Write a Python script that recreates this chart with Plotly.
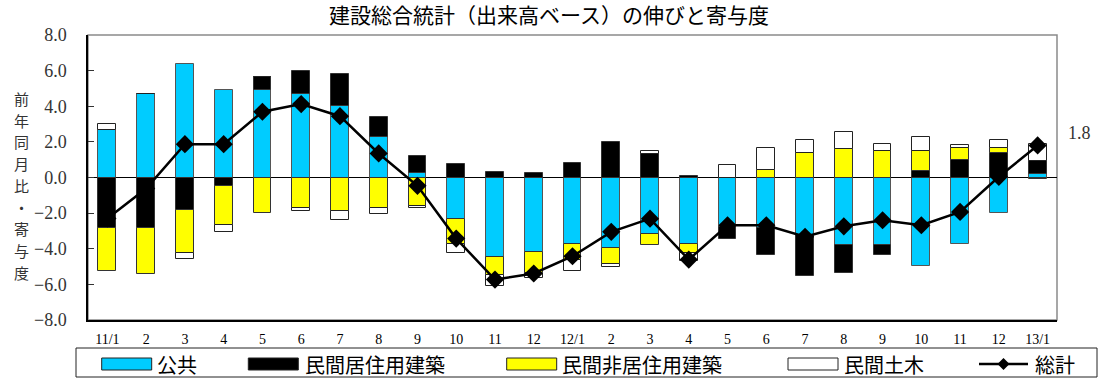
import plotly.graph_objects as go

# Month labels (11/1 = January 2011 ... 13/1 = January 2013)
months = ["11/1", "2", "3", "4", "5", "6", "7", "8", "9", "10", "11", "12",
          "12/1", "2", "3", "4", "5", "6", "7", "8", "9", "10", "11", "12", "13/1"]

# Contributions by sector (percentage points)
public = [2.65, 4.70, 6.40, 4.92, 4.90, 4.70, 3.99, 2.26, 0.24, -2.31, -4.44, -4.16,
          -3.71, -3.93, -3.18, -3.71, -2.77, -2.85, -3.24, -3.77, -3.77, -4.96, -3.73, -2.02, 0.17]
residential = [-2.83, -2.83, -1.82, -0.45, 0.73, 1.29, 1.83, 1.13, 0.99, 0.77, 0.32, 0.24,
               0.82, 1.97, 1.31, 0.09, -0.71, -1.52, -2.30, -1.57, -0.58, 0.37, 1.01, 1.35, 0.76]
non_residential = [-2.44, -2.57, -2.40, -2.19, -1.97, -1.71, -1.86, -1.74, -1.61, -1.40, -1.05, -1.18,
                   -0.94, -0.94, -0.60, -0.51, 0.0, 0.43, 1.38, 1.59, 1.48, 1.13, 0.62, 0.28, -0.10]
civil = [0.38, 0.0, -0.35, -0.42, 0.04, -0.15, -0.52, -0.30, -0.13, -0.51, -0.60, -0.28,
         -0.59, -0.17, 0.17, -0.48, 0.71, 1.23, 0.72, 0.97, 0.39, 0.76, 0.18, 0.45, 0.96]
# Year-on-year change of the total (%)
total = [-2.30, -0.62, 1.87, 1.87, 3.69, 4.12, 3.44, 1.35, -0.47, -3.43, -5.73, -5.39,
         -4.42, -3.05, -2.31, -4.61, -2.68, -2.68, -3.33, -2.74, -2.40, -2.68, -1.93, 0.04, 1.8]

y_ticks = [-8, -6, -4, -2, 0, 2, 4, 6, 8]

series = [
    ("公共", public, "#00CCFF", "#555555"),
    ("民間居住用建築", residential, "#000000", "#333333"),
    ("民間非居住用建築", non_residential, "#FFFF00", "#333333"),
    ("民間土木", civil, "#FFFFFF", "#222222"),
]
total_name = "総計"

W, H = 1098, 378
L, R, T, B = 88, 41, 35, 58
PW, PH = W - L - R, H - T - B

SERIF = "Liberation Serif"
CJK = "Noto Sans CJK JP"

x = list(range(len(months)))

fig = go.Figure()
for name, vals, fill, edge in series:
    fig.add_trace(go.Bar(
        x=x, y=vals, name=name, width=0.46,
        marker=dict(color=fill, line=dict(color=edge, width=1)),
        showlegend=False,
    ))

fig.add_trace(go.Scatter(
    x=x, y=total, name=total_name, mode="lines+markers",
    line=dict(color="#000000", width=2.5),
    marker=dict(symbol="diamond", size=14, color="#000000"),
    showlegend=False,
))


def px_x(px):
    return (px - L) / PW


def px_y(py):
    return (H - B - py) / PH


shapes = [
    # plot frame (top/right in grey)
    dict(type="rect", xref="paper", yref="paper", x0=0, x1=1, y0=0, y1=1,
         line=dict(color="#8a8a8a", width=1.5), layer="below"),
    # legend box
    dict(type="rect", xref="paper", yref="paper",
         x0=px_x(76), x1=px_x(1097), y0=px_y(377), y1=px_y(348),
         line=dict(color="#222222", width=1)),
]
annotations = []

# legend entries: swatch left edge, label left edge
legend_pos = [(101.7, 155), (248.3, 303), (506.7, 560), (788, 842)]
sw_top, sw_bot, leg_mid = 358, 370, 364
for (name, vals, fill, edge), (sx, tx) in zip(series, legend_pos):
    shapes.append(dict(type="rect", xref="paper", yref="paper",
                       x0=px_x(sx), x1=px_x(sx + 50), y0=px_y(sw_bot), y1=px_y(sw_top),
                       fillcolor=fill, line=dict(color="#222222", width=1)))
    annotations.append(dict(text=name, xref="paper", yref="paper",
                            x=px_x(tx), y=px_y(leg_mid), xanchor="left", yanchor="middle",
                            showarrow=False, font=dict(family=CJK, size=20, color="#000000")))

# legend entry for the total line
lx0, lx1 = 979, 1028
lxm = (lx0 + lx1) / 2
shapes.append(dict(type="line", xref="paper", yref="paper",
                   x0=px_x(lx0), x1=px_x(lx1), y0=px_y(leg_mid), y1=px_y(leg_mid),
                   line=dict(color="#000000", width=2.5)))
d = 6
shapes.append(dict(type="path", xref="paper", yref="paper",
                   path=(f"M {px_x(lxm - d)} {px_y(leg_mid)} L {px_x(lxm)} {px_y(leg_mid - d)} "
                         f"L {px_x(lxm + d)} {px_y(leg_mid)} L {px_x(lxm)} {px_y(leg_mid + d)} Z"),
                   fillcolor="#000000", line=dict(color="#000000", width=0)))
annotations.append(dict(text=total_name, xref="paper", yref="paper",
                        x=px_x(1033), y=px_y(leg_mid), xanchor="left", yanchor="middle",
                        showarrow=False, font=dict(family=CJK, size=20, color="#000000")))

# latest value label
annotations.append(dict(text=f"{total[-1]:.1f}", xref="x", yref="y",
                        x=x[-1], y=total[-1], xshift=42, yshift=12,
                        showarrow=False, font=dict(family=SERIF, size=18, color="#333333")))

# vertical y-axis title, one character per row
ytitle = "前年同月比・寄与度"
row_step = 21.7
first_row = 98.5
for i, ch in enumerate(ytitle):
    annotations.append(dict(text=ch, xref="paper", yref="paper",
                            x=px_x(21), y=px_y(first_row + i * row_step),
                            xanchor="center", yanchor="middle", borderpad=0,
                            showarrow=False, font=dict(family=CJK, size=15, color="#333333")))

fig.update_layout(
    width=W, height=H,
    margin=dict(l=L, r=R, t=T, b=B, pad=0),
    paper_bgcolor="#FFFFFF", plot_bgcolor="#FFFFFF",
    barmode="relative", bargap=0,
    title=dict(text="建設総合統計（出来高ベース）の伸びと寄与度",
               x=0.5, xref="container", xanchor="center",
               y=1 - 16 / H, yref="container", yanchor="middle",
               font=dict(family=CJK, size=21, color="#000000")),
    shapes=shapes, annotations=annotations,
    showlegend=False,
)

fig.update_xaxes(
    range=[-0.5, len(months) - 0.5],
    tickmode="array", tickvals=x, ticktext=months,
    ticks="", showgrid=False, zeroline=False,
    showline=True, linecolor="#000000", linewidth=1.5, mirror=False,
    tickfont=dict(family=SERIF, size=14, color="#000000"),
    ticklabelstandoff=5,
)
fig.update_yaxes(
    range=[-8, 8], tickmode="array", tickvals=y_ticks,
    tickformat=".1f", ticks="inside", ticklen=6, tickcolor="#333333",
    showgrid=False, zeroline=True, zerolinecolor="#000000", zerolinewidth=1,
    showline=True, linecolor="#000000", linewidth=1.5, mirror=False,
    tickfont=dict(family=SERIF, size=18, color="#333333"),
    ticklabelstandoff=16,
)

fig.write_html("out.html")
